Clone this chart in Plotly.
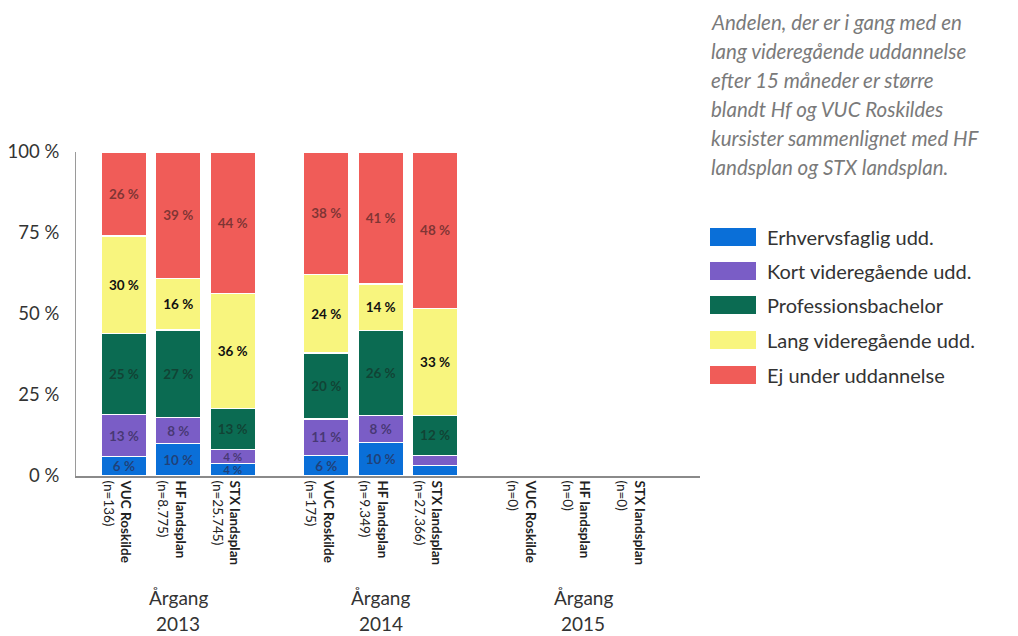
import plotly.graph_objects as go

years = ["2013", "2014", "2015"]
schools = ["VUC Roskilde", "HF landsplan", "STX landsplan"]
n_counts = [["136", "8.775", "25.745"], ["175", "9.349", "27.366"], ["0", "0", "0"]]

series_names = ["Erhvervsfaglig udd.", "Kort videregående udd.", "Professionsbachelor",
                "Lang videregående udd.", "Ej under uddannelse"]
series_colors = ["#0A6FD8", "#7A5DC6", "#0B6B52", "#F8F57E", "#F05C58"]
text_colors = ["rgba(40,50,90,0.75)", "rgba(50,40,80,0.7)", "rgba(20,50,40,0.7)", "#111111", "rgba(90,40,40,0.75)"]

# values per series, order: 2013 VUC, HF, STX, 2014 VUC, HF, STX, 2015 VUC, HF, STX
erhverv = [6, 10, 3.8, 6.3, 10.3, 3.2, None, None, None]
kort = [13, 8, 4.4, 11.3, 8.3, 3.2, None, None, None]
prof = [25, 27, 12.6, 20.3, 26.3, 12.3, None, None, None]
lang = [30, 16, 35.6, 24.3, 14.3, 33.0, None, None, None]
ej = [26, 39, 43.6, 37.8, 40.8, 48.3, None, None, None]
show_label = [[1, 1, 1, 1, 1, 0], [1, 1, 1, 1, 1, 0], [1] * 6, [1] * 6, [1] * 6]

values = [erhverv, kort, prof, lang, ej]

W, H = 1018, 636
ML, MR, MT, MB = 76, 318, 152, 160
PW, PH = W - ML - MR, H - MT - MB


def px(xp):
    return (xp - ML) / PW


def py(yp):
    return (H - MB - yp) / PH


group_step = 3.72
xs, ticktext = [], []
for g, y in enumerate(years):
    for i, s in enumerate(schools):
        xs.append(g * group_step + i)
        ticktext.append(f"<b>{s}</b><br>(n={n_counts[g][i]})")

fig = go.Figure()
for k, name in enumerate(series_names):
    vals = values[k]
    texts, sizes = [], []
    for j, v in enumerate(vals):
        if v is None or (j < 6 and not show_label[k][j]):
            texts.append("")
        else:
            texts.append(f"{round(v)} %")
        sizes.append(11.5 if (v is not None and v < 5) else 13.5)
    fig.add_trace(go.Bar(
        x=xs, y=vals, name=name, width=0.84, showlegend=False,
        marker=dict(color=series_colors[k], line=dict(color="white", width=1.5)),
        text=texts, textposition="inside", insidetextanchor="middle",
        textangle=0,
        textfont=dict(size=sizes, color=text_colors[k], family="Lato", weight="bold"),
        constraintext="none",
    ))

fig.update_layout(
    barmode="stack",
    width=W, height=H,
    paper_bgcolor="white", plot_bgcolor="white",
    margin=dict(l=ML, r=MR, t=MT, b=MB, autoexpand=False),
    font=dict(family="Lato", color="#333333"),
    showlegend=False,
)
fig.update_xaxes(range=[-0.88, 10.59], tickvals=xs, ticktext=ticktext, tickangle=90,
                 tickfont=dict(size=13.5, color="#222222"), showgrid=False, zeroline=False,
                 showline=True, linecolor="#8a8a8a", linewidth=1.5, ticks="", automargin=False,
                 ticklabelshift=-7)
fig.update_yaxes(range=[0, 100], tickvals=[0, 25, 50, 75, 100],
                 ticktext=["0 %", "25 %", "50 %", "75 %", "100 %"],
                 tickfont=dict(size=18.5, color="#333333"), showgrid=False, zeroline=False,
                 showline=True, linecolor="#9a9a9a", linewidth=1,
                 ticks="", ticklabelstandoff=12, automargin=False)

for g, y in enumerate(years):
    xc = g * group_step + 1
    fig.add_annotation(x=xc, xref="x", y=py(597), yref="paper", text="Årgang", showarrow=False,
                       font=dict(size=19, color="#333333"), yanchor="middle")
    fig.add_annotation(x=xc, xref="x", y=py(623), yref="paper", text=y, showarrow=False,
                       font=dict(size=19, color="#333333"), yanchor="middle")

# custom legend (wide swatches)
legend_y = [237, 271, 305, 340, 375]
for k, name in enumerate(series_names):
    fig.add_shape(type="rect", xref="paper", yref="paper",
                  x0=px(710), x1=px(756), y0=py(legend_y[k] + 9), y1=py(legend_y[k] - 9),
                  fillcolor=series_colors[k], line=dict(width=0))
    fig.add_annotation(x=px(765), xref="paper", y=py(legend_y[k]), yref="paper", text=name,
                       showarrow=False, xanchor="left", yanchor="middle",
                       font=dict(size=20, color="#333333"))

note_lines = ["Andelen, der er i gang med en", "lang videregående uddannelse",
              "efter 15 måneder er større", "blandt Hf og VUC Roskildes",
              "kursister sammenlignet med HF", "landsplan og STX landsplan."]
for i, line in enumerate(note_lines):
    fig.add_annotation(x=px(709), xref="paper", y=py(22 + 29 * i), yref="paper",
                       text=f"<i>{line}</i>", showarrow=False, xanchor="left", yanchor="middle",
                       font=dict(size=20.5, color="#7a7a7a"))

fig.write_html("out.html", config={"displayModeBar": False},
               post_script="document.body.style.margin='0';document.body.style.overflow='hidden';")
